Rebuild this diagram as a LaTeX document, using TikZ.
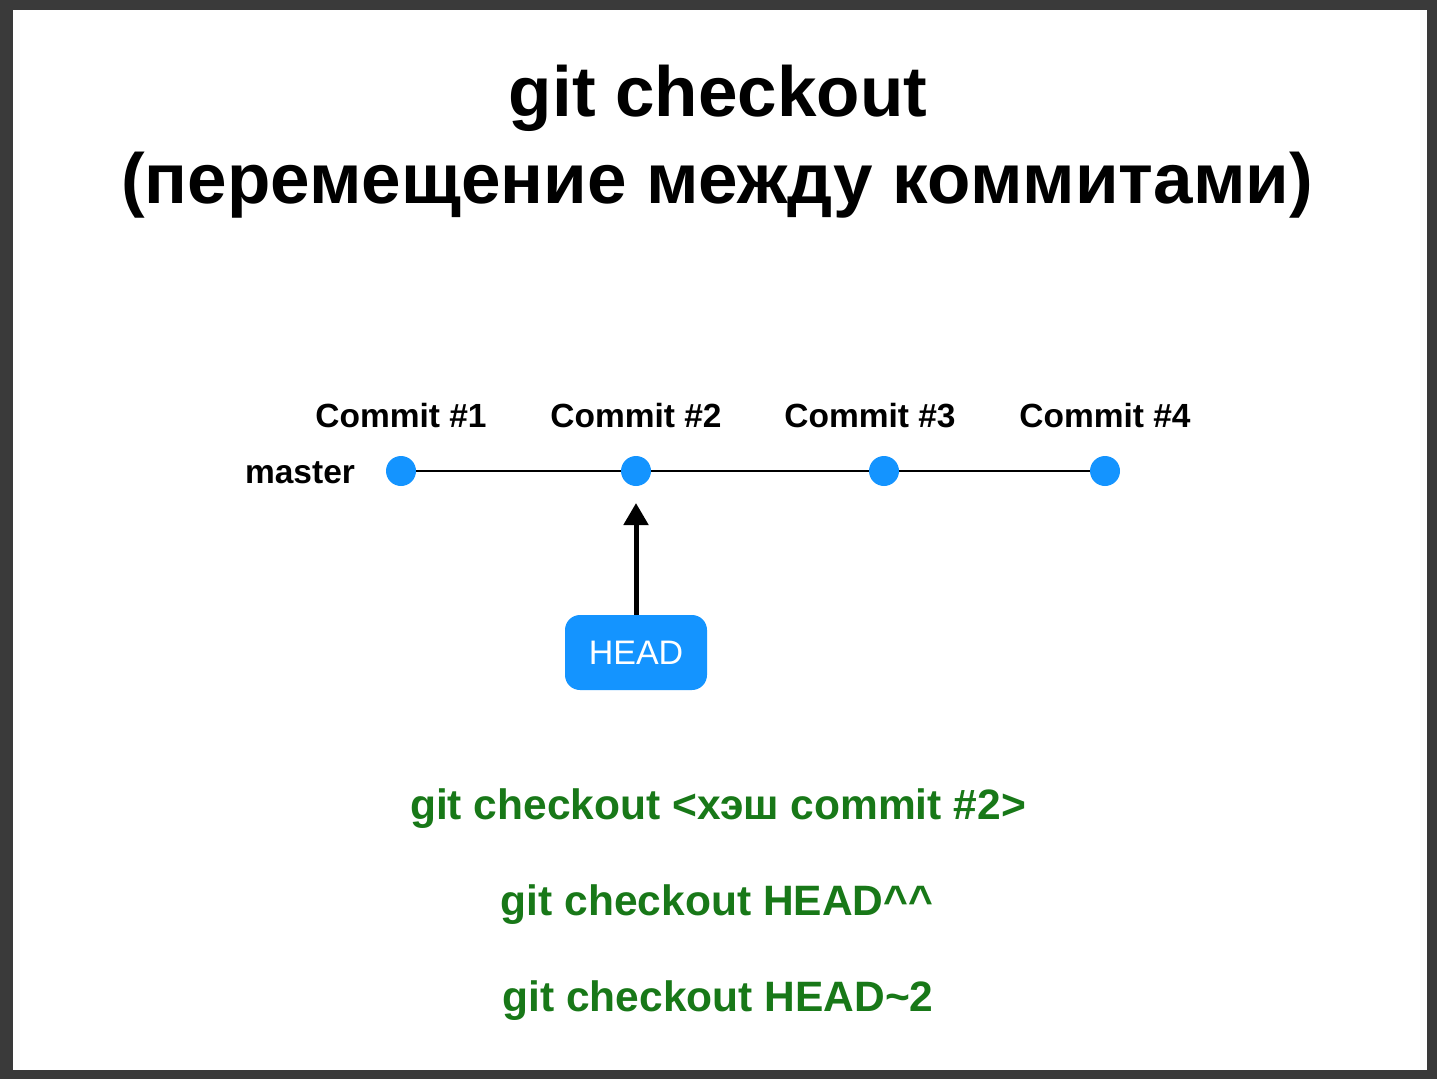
\documentclass[tikz,border=0pt]{standalone}
\usepackage{fontspec}
\setmainfont{Liberation Sans}
\usetikzlibrary{arrows.meta}
\definecolor{frame}{RGB}{58,58,58}
\definecolor{gitblue}{RGB}{20,148,255}
\definecolor{cmdgreen}{RGB}{24,120,24}
\tikzset{
  title/.style={anchor=base,inner sep=0pt,font=\fontsize{71}{80}\selectfont\bfseries},
  lbl/.style={anchor=base,inner sep=0pt,font=\fontsize{33.5}{38}\selectfont\bfseries},
  commit/.style={circle,fill=gitblue,minimum size=30pt,inner sep=0pt},
  cmd/.style={anchor=base,inner sep=0pt,text=cmdgreen,font=\fontsize{42.5}{48}\selectfont\bfseries},
  headbox/.style={rectangle,rounded corners=15pt,fill=gitblue,text=white,minimum width=142pt,minimum height=75pt,inner sep=0pt,font=\fontsize{34}{40}\selectfont},
  link/.style={line width=2.8pt,black},
  pointer/.style={line width=5pt,black,-{Triangle[length=22pt,width=24pt]}}
}
\begin{document}
\begin{tikzpicture}[x=1pt,y=-1pt]
\fill[frame] (0,0) rectangle (1437,1079);
\fill[white] (13,10) rectangle (1427,1070);
\useasboundingbox (0,0) rectangle (1437,1079);
\node[title] (t1) at (718,116) {git checkout};
\node[title] (t2) at (717,203) {(перемещение между коммитами)};
\node[lbl] (l1) at (401,427) {Commit \#1};
\node[lbl] (l2) at (636,427) {Commit \#2};
\node[lbl] (l3) at (870,427) {Commit \#3};
\node[lbl] (l4) at (1105,427) {Commit \#4};
\node[lbl] (master) at (300,483) {master};
\node[commit] (c1) at (401,471) {};
\node[commit] (c2) at (636,471) {};
\node[commit] (c3) at (884,471) {};
\node[commit] (c4) at (1105,471) {};
\draw[link] (c1) -- (c2);
\draw[link] (c2) -- (c3);
\draw[link] (c3) -- (c4);
\node[headbox] (head) at (636,652.5) {HEAD};
\draw[pointer] (head.north) -- (636,503);
\node[cmd] (k1) at (718,819) {git checkout <хэш commit \#2>};
\node[cmd] (k2) at (717,915) {git checkout HEAD\^{}\^{}};
\node[cmd] (k3) at (718,1011) {git checkout HEAD\char`\~2};
\end{tikzpicture}
\end{document}
